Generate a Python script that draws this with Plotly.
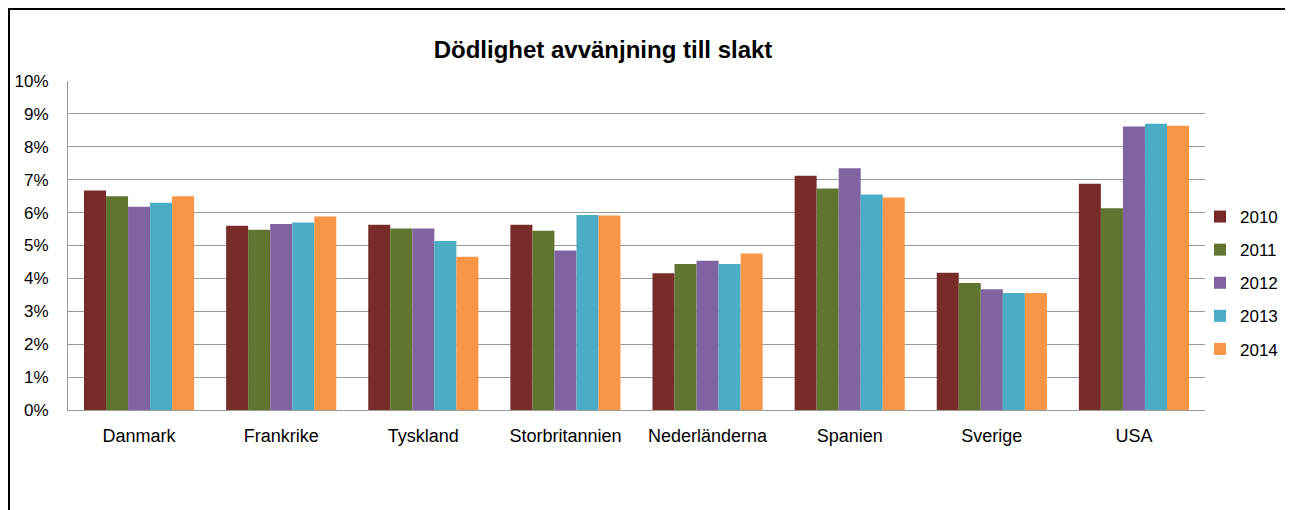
import plotly.graph_objects as go

countries = ["Danmark", "Frankrike", "Tyskland", "Storbritannien", "Nederländerna", "Spanien", "Sverige", "USA"]
years = ["2010", "2011", "2012", "2013", "2014"]
v2010 = [6.67, 5.60, 5.63, 5.63, 4.16, 7.12, 4.17, 6.88]
v2011 = [6.50, 5.48, 5.52, 5.45, 4.44, 6.73, 3.86, 6.13]
v2012 = [6.18, 5.65, 5.52, 4.85, 4.54, 7.35, 3.67, 8.62]
v2013 = [6.30, 5.70, 5.14, 5.93, 4.44, 6.55, 3.56, 8.70]
v2014 = [6.50, 5.88, 4.66, 5.91, 4.76, 6.46, 3.56, 8.64]
series = [v2010, v2011, v2012, v2013, v2014]
colors = ["#772C2A", "#5F7530", "#8064A2", "#4BACC6", "#F79646"]

# the page body has an 8px margin; all layout numbers below are page pixels
OFF = 8
W, H = 1293 - OFF, 510 - OFF
L, R, T, B = 68 - OFF, 1205 - OFF, 81 - OFF, 410 - OFF
pw, ph = R - L, B - T


def px_x(x):
    return (x - OFF - L) / pw


def px_y(y):
    return (B - (y - OFF)) / ph


FONT = "Liberation Sans, Arial, sans-serif"

fig = go.Figure()
for yr, vals, c in zip(years, series, colors):
    fig.add_trace(go.Bar(
        x=countries, y=[v / 100 for v in vals], name=yr,
        marker=dict(color=c, line=dict(width=0)),
        legendgroup=yr,
    ))

fig.update_layout(
    width=W, height=H,
    margin=dict(l=L, r=W - R, t=T, b=H - B, autoexpand=False),
    paper_bgcolor="white", plot_bgcolor="white",
    barmode="group", bargap=0.225, bargroupgap=0,
    font=dict(family=FONT, size=17, color="black"),
    title=dict(text="<b>Dödlighet avvänjning till slakt</b>", x=(603 - OFF) / W, xref="container",
               y=1 - (50 - OFF) / H, yref="container", xanchor="center", yanchor="middle",
               font=dict(size=24, family=FONT, color="black")),
    xaxis=dict(showgrid=False, showline=True, linecolor="#9a9a9a", linewidth=1,
               ticks="", tickfont=dict(size=18), ticklabelstandoff=9),
    yaxis=dict(range=[0, 0.1], dtick=0.01, tickformat=".0%", showgrid=True,
               gridcolor="#9a9a9a", gridwidth=1, zeroline=False, showline=True,
               linecolor="#9a9a9a", linewidth=1, ticks="", tickfont=dict(size=17),
               ticklabelstandoff=15),
    legend=dict(x=px_x(1200), y=px_y(283), xanchor="left", yanchor="middle",
                font=dict(size=17), tracegroupgap=8, itemwidth=30,
                bgcolor="rgba(0,0,0,0)"),
    showlegend=True,
)

fig.add_shape(type="rect", xref="paper", yref="paper",
              x0=px_x(OFF + 1), x1=px_x(1287), y0=px_y(560), y1=px_y(OFF + 1),
              line=dict(color="black", width=2), fillcolor="rgba(0,0,0,0)", layer="above")

fig.write_html("out.html")
